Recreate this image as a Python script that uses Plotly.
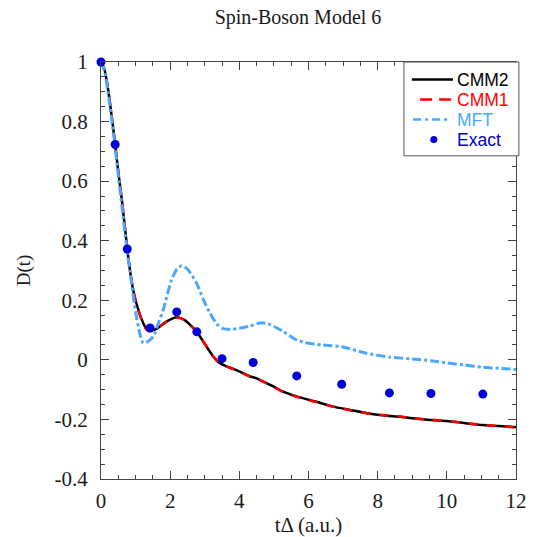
import plotly.graph_objects as go

# CMM2 (solid black)
t_cmm2 = [0, 0.1, 0.2, 0.3, 0.41, 0.5, 0.6, 0.76, 0.85, 0.93, 1.0, 1.13, 1.27, 1.37, 1.5, 1.6,
          1.9, 2.19, 2.4, 2.6, 2.77, 3.05, 3.24, 3.4, 3.63, 3.83, 4.3, 4.5, 4.79, 5.0, 5.27,
          5.5, 5.75, 6.2, 6.71, 7.2, 7.68, 8.2, 8.64, 9.0, 9.54, 10.0, 10.5, 11.04, 11.5, 12.0]
d_cmm2 = [1.0, 0.975, 0.912, 0.826, 0.723, 0.63, 0.54, 0.372, 0.29, 0.235, 0.2, 0.15, 0.112, 0.1, 0.1, 0.104,
          0.129, 0.143, 0.135, 0.115, 0.094, 0.045, 0.012, -0.008, -0.022, -0.03, -0.055, -0.062, -0.078, -0.09, -0.107,
          -0.117, -0.126, -0.14, -0.157, -0.168, -0.179, -0.187, -0.191, -0.196, -0.202, -0.205, -0.212, -0.219, -0.222, -0.226]

# CMM1 (red dashed)
t_cmm1 = [0, 0.1, 0.2, 0.3, 0.41, 0.5, 0.6, 0.76, 0.85, 0.93, 1.0, 1.13, 1.27, 1.37, 1.5, 1.6,
          1.9, 2.19, 2.4, 2.6, 2.77, 3.05, 3.24, 3.4, 3.63, 3.83, 4.3, 4.5, 4.79, 5.0, 5.27,
          5.5, 5.75, 6.2, 6.71, 7.2, 7.68, 8.2, 8.64, 9.0, 9.54, 10.0, 10.5, 11.04, 11.5, 12.0]
d_cmm1 = [1.0, 0.975, 0.912, 0.826, 0.723, 0.63, 0.54, 0.372, 0.29, 0.235, 0.198, 0.148, 0.108, 0.097, 0.098, 0.103,
          0.128, 0.142, 0.134, 0.114, 0.094, 0.045, 0.012, -0.009, -0.023, -0.031, -0.056, -0.063, -0.079, -0.091, -0.108,
          -0.118, -0.127, -0.141, -0.157, -0.169, -0.179, -0.186, -0.19, -0.196, -0.201, -0.205, -0.212, -0.218, -0.222, -0.227]

# MFT (light blue dash-dot)
t_mft = [0, 0.1, 0.2, 0.3, 0.41, 0.5, 0.6, 0.76, 0.84, 0.98, 1.13, 1.22, 1.3, 1.51, 1.65, 1.8,
         2.04, 2.2, 2.33, 2.5, 2.76, 2.95, 3.15, 3.35, 3.53, 3.75, 4.0, 4.3, 4.64, 4.9, 5.27,
         5.6, 5.9, 6.4, 6.96, 7.68, 8.36, 9.0, 9.54, 10.0, 10.5, 11.04, 11.5, 12.0]
d_mft = [1.0, 0.97, 0.9, 0.815, 0.715, 0.62, 0.52, 0.36, 0.297, 0.175, 0.084, 0.056, 0.058, 0.078, 0.12, 0.168,
         0.269, 0.305, 0.316, 0.305, 0.258, 0.205, 0.157, 0.12, 0.105, 0.103, 0.106, 0.113, 0.125, 0.118, 0.095,
         0.07, 0.058, 0.05, 0.044, 0.022, 0.009, 0.003, -0.003, -0.01, -0.017, -0.025, -0.028, -0.032]

# Exact (blue dots)
t_exact = [0, 0.41, 0.76, 1.42, 2.19, 2.77, 3.5, 4.4, 5.66, 6.96, 8.34, 9.54, 11.04]
d_exact = [1.0, 0.723, 0.372, 0.107, 0.161, 0.094, 0.004, -0.009, -0.054, -0.082, -0.111, -0.113, -0.115]

x_tickvals = [0, 2, 4, 6, 8, 10, 12]
x_ticktext = ["0", "2", "4", "6", "8", "10", "12"]
y_tickvals = [-0.4, -0.2, 0, 0.2, 0.4, 0.6, 0.8, 1.0]
y_ticktext = ["-0.4", "-0.2", "0", "0.2", "0.4", "0.6", "0.8", "1"]

series_names = ["CMM2", "CMM1", "MFT", "Exact"]
series_colors = ["black", "#ff0000", "#4aa8ff", "#0000dd"]
legend_text_colors = ["black", "#ff0000", "#4aa8ff", "#0000cc"]

serif = "Liberation Serif, Times New Roman, serif"
sans = "Liberation Sans, Arial, sans-serif"

fig = go.Figure()
fig.add_trace(go.Scatter(x=t_cmm2, y=d_cmm2, mode="lines", name=series_names[0],
                         line=dict(color=series_colors[0], width=2.5, shape="spline", smoothing=0.6),
                         cliponaxis=False))
fig.add_trace(go.Scatter(x=t_cmm1, y=d_cmm1, mode="lines", name=series_names[1],
                         line=dict(color=series_colors[1], width=2.5, dash="dash", shape="spline", smoothing=0.6),
                         cliponaxis=False))
fig.add_trace(go.Scatter(x=t_mft, y=d_mft, mode="lines", name=series_names[2],
                         line=dict(color=series_colors[2], width=3, dash="dashdot", shape="spline", smoothing=0.6),
                         cliponaxis=False))
fig.add_trace(go.Scatter(x=t_exact, y=d_exact, mode="markers", name=series_names[3],
                         marker=dict(color=series_colors[3], size=9),
                         cliponaxis=False))

axis_common = dict(
    showline=True, linecolor="#444", linewidth=1, mirror="ticks",
    ticks="inside", ticklen=8, tickcolor="#444", tickwidth=1,
    showgrid=False, zeroline=False, automargin=False,
    tickfont=dict(family=serif, size=21, color="#1a1a1a"),
)

fig.update_xaxes(range=[0, 12], tickvals=x_tickvals, ticktext=x_ticktext,
                 minor=dict(dtick=0.5, tick0=0, ticks="inside", ticklen=4, tickcolor="#444", showgrid=False),
                 title=dict(text="tΔ (a.u.)", font=dict(family=serif, size=21, color="#1a1a1a"), standoff=13),
                 ticklabelstandoff=3, **axis_common)
fig.update_yaxes(range=[-0.4, 1.0], tickvals=y_tickvals, ticktext=y_ticktext,
                 minor=dict(dtick=0.05, tick0=0, ticks="inside", ticklen=4, tickcolor="#444", showgrid=False),
                 title=dict(text="D(t)", font=dict(family=serif, size=19, color="#1a1a1a"), standoff=18),
                 ticklabelstandoff=8, **axis_common)

# Hand-drawn legend (paper coordinates) to reproduce the compact reference legend
row_y = [0.958, 0.910, 0.862, 0.814]
shapes = [dict(type="rect", xref="paper", yref="paper", x0=0.730, x1=1.007, y0=0.775, y1=1.0,
               line=dict(color="#555", width=1), fillcolor="white", layer="above")]
shapes.append(dict(type="line", xref="paper", yref="paper", x0=0.749, x1=0.848, y0=row_y[0], y1=row_y[0],
                   line=dict(color=series_colors[0], width=2.5), layer="above"))
shapes.append(dict(type="line", xref="paper", yref="paper", x0=0.769, x1=0.846, y0=row_y[1], y1=row_y[1],
                   line=dict(color=series_colors[1], width=2.5, dash="12px,7px"), layer="above"))
shapes.append(dict(type="line", xref="paper", yref="paper", x0=0.752, x1=0.838, y0=row_y[2], y1=row_y[2],
                   line=dict(color=series_colors[2], width=2.5, dash="8px,4px,3px,4px"), layer="above"))
shapes.append(dict(type="circle", xref="paper", yref="paper", x0=0.802 - 0.0085, x1=0.802 + 0.0085,
                   y0=row_y[3] - 0.0085, y1=row_y[3] + 0.0085,
                   line=dict(color=series_colors[3], width=0), fillcolor=series_colors[3], layer="above"))
annotations = []
for name, col, yy in zip(series_names, legend_text_colors, row_y):
    annotations.append(dict(text=name, xref="paper", yref="paper", x=0.852, y=yy,
                            xanchor="left", yanchor="middle", showarrow=False,
                            font=dict(family=sans, size=17.5, color=col)))

fig.update_layout(
    width=535, height=537,
    margin=dict(l=101, r=19, t=62, b=58),
    paper_bgcolor="white", plot_bgcolor="white",
    title=dict(text="Spin-Boson Model 6", x=0.557, xanchor="center", y=0.968, yanchor="middle",
               font=dict(family=serif, size=20, color="#1a1a1a")),
    showlegend=False,
    shapes=shapes,
    annotations=annotations,
)

fig.write_html("out.html")
